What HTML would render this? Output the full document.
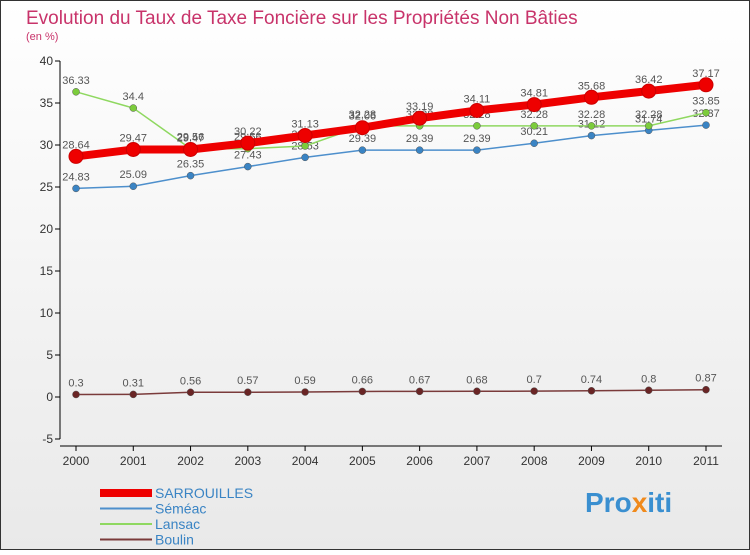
<!DOCTYPE html>
<html><head><meta charset="utf-8"><style>
body{margin:0;width:750px;height:550px;overflow:hidden;font-family:"Liberation Sans",sans-serif}
svg text{font-family:"Liberation Sans",sans-serif}
</style></head><body>
<svg id="c" width="750" height="550" viewBox="0 0 750 550">
<defs><linearGradient id="bg" x1="0" y1="0" x2="0" y2="1"><stop offset="0" stop-color="#ffffff"/><stop offset="1" stop-color="#e9e9e9"/></linearGradient></defs>
<rect x="0.5" y="0.5" width="749" height="549" fill="url(#bg)" stroke="#333"/>
<text x="26" y="24" font-size="19" fill="#c8336a">Evolution du Taux de Taxe Foncière sur les Propriétés Non Bâties</text>
<text x="26" y="40" font-size="11" fill="#c8336a">(en %)</text>
<g id="axes"></g><g id="series"></g>
<text x="585" y="512" font-size="28" font-weight="bold" fill="#3a8fd0">Pro<tspan fill="#f08a1c">x</tspan>iti</text>
</svg>
<script>
const years=["2000","2001","2002","2003","2004","2005","2006","2007","2008","2009","2010","2011"];
const yTicks=[-5,0,5,10,15,20,25,30,35,40];
const sarrouilles=[28.64,29.47,29.47,30.22,31.13,32.06,33.19,34.11,34.81,35.68,36.42,37.17];
const semeac=[24.83,25.09,26.35,27.43,28.53,29.39,29.39,29.39,30.21,31.12,31.74,32.37];
const lansac=[36.33,34.4,29.56,29.56,29.88,32.28,32.28,32.28,32.28,32.28,32.28,33.85];
const boulin=[0.3,0.31,0.56,0.57,0.59,0.66,0.67,0.68,0.7,0.74,0.8,0.87];
const NS="http://www.w3.org/2000/svg";
const X=i=>76+i*(630/11);
const Y=v=>397-v*8.4;
function mk(t,a,p,txt){const e=document.createElementNS(NS,t);for(const k in a)e.setAttribute(k,a[k]);if(txt!==undefined)e.textContent=txt;p.appendChild(e);return e;}
const ax=document.getElementById('axes');
let l=mk('line',{x1:60,y1:Y(40),x2:60,y2:Y(-5),stroke:'#000'},ax);


yTicks.forEach(v=>{
 let t=mk('line',{x1:55,y1:Y(v),x2:60,y2:Y(v),stroke:'#000'},ax);
 
 
 let tx=mk('text',{x:53,y:Y(v)+4,'font-size':12,fill:'#333','text-anchor':'end'},ax,String(v));
 
 
});
let xa=mk('line',{x1:60,y1:446,x2:722,y2:446,stroke:'#000'},ax);


years.forEach((y,i)=>{
 let t=mk('line',{x1:X(i),y1:446,x2:X(i),y2:451,stroke:'#000'},ax);
 
 
 let tx=mk('text',{x:X(i),y:465,'font-size':12,fill:'#333','text-anchor':'middle'},ax,y);
 
 
});
const sg=document.getElementById('series');
const defs=[
 {d:semeac,c:'#4d8fcc',w:1.5,r:3.5,f:'#3a84c4',n:'semeac',lab:'Séméac'},
 {d:lansac,c:'#8fd860',w:1.5,r:3.5,f:'#7ccc3c',n:'lansac',lab:'Lansac'},
 {d:boulin,c:'#7a3a3a',w:1.5,r:3.5,f:'#6a2525',n:'boulin',lab:'Boulin'},
 {d:sarrouilles,c:'#ee0000',w:8,r:7,f:'#ee0000',n:'sarrouilles',lab:'SARROUILLES'}];
defs.forEach(s=>{
 let p=mk('polyline',{points:s.d.map((v,i)=>X(i)+','+Y(v)).join(' '),fill:'none',stroke:s.c,'stroke-width':s.w},sg);
 
 
 s.d.forEach((v,i)=>{
  let c=mk('circle',{cx:X(i),cy:Y(v),r:s.r,fill:s.f,stroke:s.n=='sarrouilles'?'#cc0000':'#555','stroke-width':s.n=='sarrouilles'?1:0.5},sg);
  
  
  if(s.n=='sarrouilles'){mk('circle',{cx:X(i),cy:Y(v),r:3,fill:'#ee0000'},sg);}
  let t=mk('text',{x:X(i),y:Y(v)-8,'font-size':11,fill:'#555','text-anchor':'middle'},sg,String(v));
  
  
 });
});
const lg=[defs[3],defs[0],defs[1],defs[2]];
lg.forEach((s,i)=>{
 const y=493+i*15.5;
 let ln=mk('line',{x1:100,y1:y,x2:152,y2:y,stroke:s.c,'stroke-width':s.n=='sarrouilles'?8:2},sg);
 
 
 let t=mk('text',{x:155,y:y+5,'font-size':14,fill:'#3a84c4'},sg,s.lab);
 
 
});
</script>
</body></html>
